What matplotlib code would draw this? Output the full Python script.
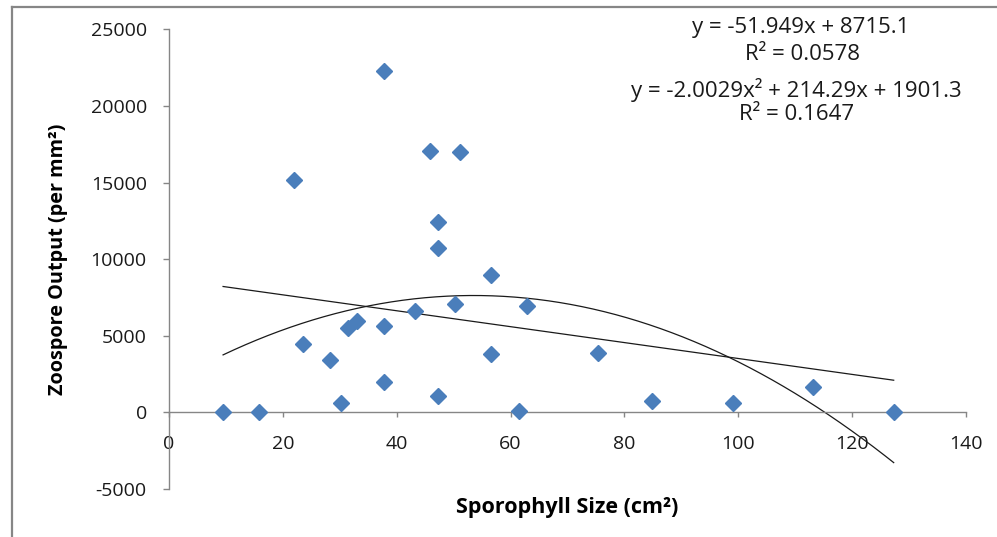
import matplotlib
matplotlib.use("Agg")
import matplotlib.pyplot as plt
import numpy as np
from matplotlib.lines import Line2D

plt.rcParams['font.family'] = ['Open Sans', 'DejaVu Sans']

# Sporophyll size (cm2) and zoospore output (per mm2)
size_cm2 = [9.5, 15.8, 22.0, 23.5, 28.3, 30.2, 31.4, 33.0, 37.8, 37.8,
            37.8, 43.2, 45.9, 47.2, 47.3, 47.2, 50.3, 51.1, 56.5, 56.5,
            61.4, 62.9, 75.4, 84.8, 99.1, 113.1, 127.3]
zoospores = [30, 0, 15190, 4480, 3390, 610, 5480, 5980, 22320, 5640,
             2000, 6590, 17100, 12430, 10730, 1070, 7110, 17000, 8990, 3830,
             60, 6980, 3880, 760, 630, 1630, 30]

# Trendline coefficients
lin_coef = [-51.949, 8715.1]
lin_r2 = 0.0578
poly_coef = [-2.0029, 214.29, 1901.3]
poly_r2 = 0.1647

x_ticks = [0, 20, 40, 60, 80, 100, 120, 140]
y_ticks = [-5000, 0, 5000, 10000, 15000, 20000, 25000]

W, H = 997, 537
fig = plt.figure(figsize=(W / 100, H / 100), dpi=100)
ax = fig.add_axes([169 / W, 1 - 489 / H, (966 - 169) / W, (489 - 29.5) / H])

axis_grey = '#868686'

xs = np.linspace(min(size_cm2), max(size_cm2), 300)
ax.plot(xs, np.polyval(lin_coef, xs), color='#1a1a1a', lw=0.9, zorder=2)
ax.plot(xs, np.polyval(poly_coef, xs), color='#1a1a1a', lw=0.9, zorder=2)
ax.plot(size_cm2, zoospores, linestyle='none', marker='D', ms=8,
        color='#4a7ebb', mec='#4a7ebb', zorder=3)

ax.set_xlim(0, 140)
ax.set_ylim(-5000, 25000)
ax.set_xticks(x_ticks)
ax.set_yticks(y_ticks)
ax.set_xticklabels([str(t) for t in x_ticks])
ax.set_yticklabels([str(t) for t in y_ticks])

# x axis crosses at y = 0
ax.spines['bottom'].set_position(('data', 0))
for s in ['top', 'right']:
    ax.spines[s].set_visible(False)
for s in ['left', 'bottom']:
    ax.spines[s].set_color(axis_grey)
    ax.spines[s].set_linewidth(1.0)

ax.tick_params(axis='x', direction='out', length=3.5, width=1, color=axis_grey,
               pad=13, labelsize=14, labelcolor='#1a1a1a')
ax.tick_params(axis='y', direction='out', length=4, width=1, color=axis_grey,
               pad=12, labelsize=14, labelcolor='#1a1a1a')

fig.text(567 / W, 1 - 508 / H, 'Sporophyll Size (cm²)', ha='center', va='center',
         fontsize=15.5, fontweight='bold')
fig.text(58 / W, 1 - 259 / H, 'Zoospore Output (per mm²)', ha='center', va='center',
         rotation=90, fontsize=14.3, fontweight='bold')

# trendline equations
eq_kw = dict(ha='center', va='center', fontsize=16, color='#1a1a1a')
fig.text(801 / W, 1 - 27 / H, 'y = {:g}x + {:.1f}'.format(*lin_coef), **eq_kw)
fig.text(802 / W, 1 - 55 / H, 'R² = {:.4f}'.format(lin_r2), **eq_kw)
fig.text(796 / W, 1 - 90 / H,
         'y = {:.4f}x² + {:.2f}x + {:.1f}'.format(*poly_coef), **eq_kw)
fig.text(797 / W, 1 - 115 / H, 'R² = {:.4f}'.format(poly_r2), **eq_kw)

# chart frame
fig.add_artist(Line2D([12 / W, 1], [1 - 7 / H, 1 - 7 / H], color=axis_grey, lw=1.6))
fig.add_artist(Line2D([12 / W, 12 / W], [0, 1 - 7 / H], color=axis_grey, lw=1.6))

fig.savefig('out.png', dpi=100)
